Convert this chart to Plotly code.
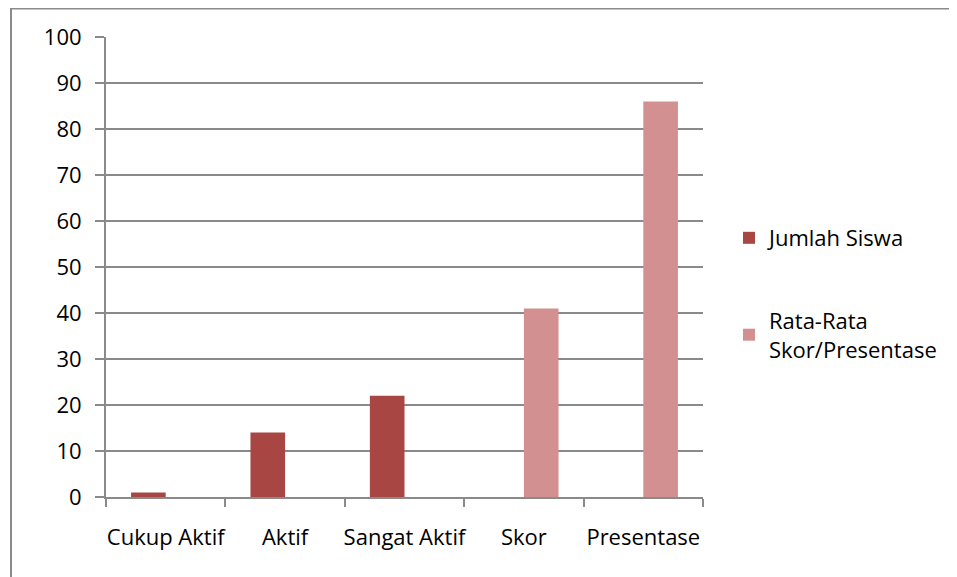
import plotly.graph_objects as go

categories = ["Cukup Aktif", "Aktif", "Sangat Aktif", "Skor", "Presentase"]
jumlah_siswa = [1, 14, 22, None, None]
rata_rata = [None, None, None, 41, 86]
y_ticks = [0, 10, 20, 30, 40, 50, 60, 70, 80, 90, 100]

# page body has an 8px margin, so the figure is drawn 8px in from the window edge
W, H = 949, 569
ML, MR, MT, MB = 98, 254, 29, 80
FONT = "Open Sans"
GRID = "#8a8a8a"

fig = go.Figure()
fig.add_trace(go.Bar(name="Jumlah Siswa", x=categories, y=jumlah_siswa,
                     marker=dict(color="#A84644", line=dict(width=0)),
                     legendgroup="a"))
fig.add_trace(go.Bar(name="Rata-Rata<br>Skor/Presentase", x=categories, y=rata_rata,
                     marker=dict(color="#D29190", line=dict(width=0)),
                     legendgroup="b"))

pw = W - ML - MR
ph = H - MT - MB
def px_x(p):
    return (p - ML) / pw
def px_y(p):
    return 1 - (p - MT) / ph

fig.update_layout(
    width=W, height=H,
    margin=dict(l=ML, r=MR, t=MT, b=MB),
    paper_bgcolor="white", plot_bgcolor="white",
    font=dict(family=FONT, size=22, color="#000000"),
    barmode="group", bargap=0.42, bargroupgap=0,
    showlegend=True,
    legend=dict(x=px_x(721), xanchor="left", y=px_y(209), yanchor="top",
                traceorder="grouped", tracegroupgap=51,
                font=dict(family=FONT, size=22, color="#000000"),
                itemwidth=30, bgcolor="rgba(0,0,0,0)"),
    xaxis=dict(showline=True, linecolor=GRID, linewidth=2, automargin=False,
               tickangle=0,
               ticks="outside", tickson="boundaries", ticklen=8, tickwidth=2,
               tickcolor=GRID, showgrid=False, ticklabelstandoff=20),
    yaxis=dict(range=[0, 100], tickvals=y_ticks, showline=True, linecolor=GRID,
               linewidth=2, ticks="outside", ticklen=9, tickwidth=2, tickcolor=GRID,
               showgrid=True, gridcolor=GRID, gridwidth=1.5, zeroline=False,
               automargin=False, ticklabelstandoff=9),
    shapes=[dict(type="line", xref="paper", yref="paper",
                 x0=px_x(3), x1=px_x(960), y0=px_y(0.5), y1=px_y(0.5),
                 line=dict(color=GRID, width=2)),
            dict(type="line", xref="paper", yref="paper",
                 x0=px_x(3), x1=px_x(3), y0=px_y(0), y1=px_y(580),
                 line=dict(color=GRID, width=2))],
)

fig.write_html("out.html")
